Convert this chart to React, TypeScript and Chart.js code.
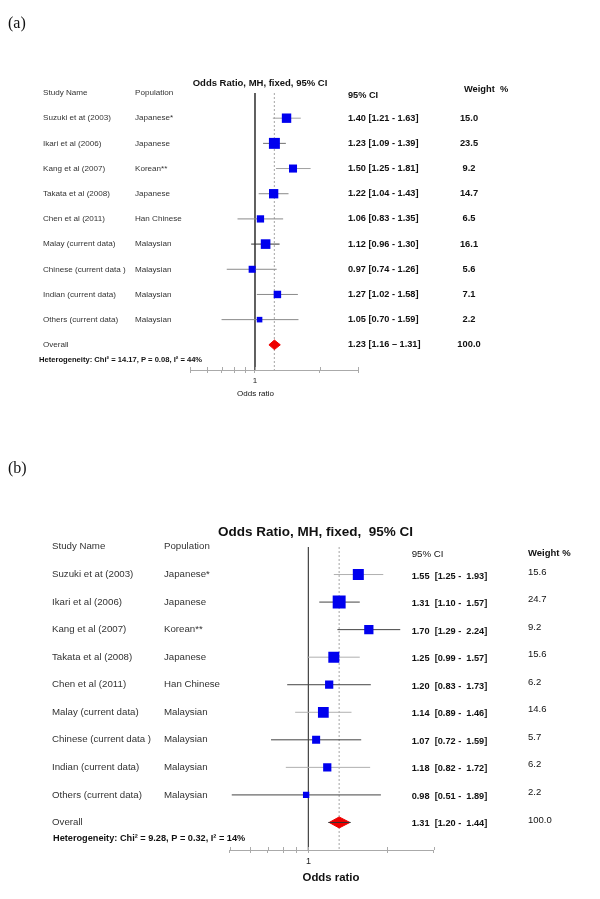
import React, { useEffect, useRef } from "react";
import { Chart, registerables } from "chart.js";
Chart.register(...registerables);

// ---------- data ----------
const studies = [
  "Suzuki et at (2003)",
  "Ikari et al (2006)",
  "Kang et al (2007)",
  "Takata et al (2008)",
  "Chen et al (2011)",
  "Malay (current data)",
  "Chinese (current data )",
  "Indian (current data)",
  "Others (current data)",
];
const populations = [
  "Japanese*",
  "Japanese",
  "Korean**",
  "Japanese",
  "Han Chinese",
  "Malaysian",
  "Malaysian",
  "Malaysian",
  "Malaysian",
];

// panel (a)
const orA = [1.4, 1.23, 1.5, 1.22, 1.06, 1.12, 0.97, 1.27, 1.05];
const loA = [1.21, 1.09, 1.25, 1.04, 0.83, 0.96, 0.74, 1.02, 0.7];
const hiA = [1.63, 1.39, 1.81, 1.43, 1.35, 1.3, 1.26, 1.58, 1.59];
const weightA = [15.0, 23.5, 9.2, 14.7, 6.5, 16.1, 5.6, 7.1, 2.2];
const overallA = [1.23, 1.16, 1.31]; // OR, lower, upper
const hetA = "Heterogeneity: Chi\u00B2 = 14.17, P = 0.08, I\u00B2 = 44%";
const titleA = "Odds Ratio, MH, fixed, 95% CI";

// panel (b)
const orB = [1.55, 1.31, 1.7, 1.25, 1.2, 1.14, 1.07, 1.18, 0.98];
const loB = [1.25, 1.1, 1.29, 0.99, 0.83, 0.89, 0.72, 0.82, 0.51];
const hiB = [1.93, 1.57, 2.24, 1.57, 1.73, 1.46, 1.59, 1.72, 1.89];
const weightB = [15.6, 24.7, 9.2, 15.6, 6.2, 14.6, 5.7, 6.2, 2.2];
const overallB = [1.31, 1.2, 1.44];
const hetB = "Heterogeneity: Chi\u00B2 = 9.28, P = 0.32, I\u00B2 = 14%";
const titleB = "Odds Ratio, MH, fixed,  95% CI";

const axisTicks = [0.5, 0.6, 0.7, 0.8, 0.9, 1, 2, 3];
const axisMin = 0.5;
const axisMax = 3;

// ---------- styles ----------
const FONT = "'Liberation Sans', Arial, sans-serif";

const panelA = {
  top: 0,
  height: 440,
  area: { left: 190, right: 358, top: 93, bottom: 370 },
  axisH: 20,
  or: orA,
  lo: loA,
  hi: hiA,
  weight: weightA,
  overall: overallA,
  het: hetA,
  title: titleA,
  fmt: (o: number, l: number, h: number, last: boolean) =>
    `${o.toFixed(2)} [${l.toFixed(2)} ${last ? "\u2013" : "-"} ${h.toFixed(2)}]`,
  ciColors: ["#a0a0a0", "#707070", "#a0a0a0", "#8a8a8a", "#8a8a8a", "#333333", "#8a8a8a", "#8a8a8a", "#8a8a8a"],
  sq: (w: number) => 3.2 + 1.6 * Math.sqrt(w),
  diamondHalf: 0.19,
  overallLine: false,
  t: {
    title: { x: 260, y: 83, font: `bold 9.5px ${FONT}` },
    headerY: 93,
    studyX: 43,
    popX: 135,
    rowFont: `8.1px ${FONT}`,
    rowColor: "#333",
    ciHead: { x: 348, y: 95, font: `bold 9.2px ${FONT}`, text: "95% CI" },
    wHead: { x: 464, y: 89, font: `bold 9.3px ${FONT}`, text: "Weight  %" },
    valX: 348,
    valDy: 0,
    valFont: `bold 9.2px ${FONT}`,
    wX: 469,
    wAlign: "center" as CanvasTextAlign,
    wDy: 0,
    wFont: `bold 9.3px ${FONT}`,
    het: { x: 39, y: 360, font: `bold 7.6px ${FONT}` },
    xTitle: { x: 255.5, y: 394, font: `8px ${FONT}`, text: "Odds ratio" },
    tickFont: 8,
    tickPad: 3,
  },
};

const panelB = {
  top: 440,
  height: 459,
  area: { left: 229.5, right: 433.5, top: 547, bottom: 850 },
  axisH: 22,
  or: orB,
  lo: loB,
  hi: hiB,
  weight: weightB,
  overall: overallB,
  het: hetB,
  title: titleB,
  fmt: (o: number, l: number, h: number, _last: boolean) =>
    `${o.toFixed(2)}  [${l.toFixed(2)} -  ${h.toFixed(2)}]`,
  ciColors: ["#b0b0b0", "#444444", "#444444", "#b0b0b0", "#444444", "#b0b0b0", "#444444", "#b0b0b0", "#444444"],
  sq: (w: number) => 3.5 + 1.9 * Math.sqrt(w),
  diamondHalf: 0.2,
  overallLine: true,
  t: {
    title: { x: 315.5, y: 532, font: `bold 13.5px ${FONT}` },
    headerY: 546,
    studyX: 52,
    popX: 164,
    rowFont: `9.7px ${FONT}`,
    rowColor: "#333",
    ciHead: { x: 411.7, y: 554, font: `9.7px ${FONT}`, text: "95% CI" },
    wHead: { x: 528, y: 553, font: `bold 9.5px ${FONT}`, text: "Weight %" },
    valX: 411.7,
    valDy: 1.5,
    valFont: `bold 9.2px ${FONT}`,
    wX: 528,
    wAlign: "left" as CanvasTextAlign,
    wDy: -2.5,
    wFont: `9.5px ${FONT}`,
    het: { x: 53, y: 838.3, font: `bold 9.2px ${FONT}` },
    xTitle: { x: 331, y: 877.7, font: `bold 11.4px ${FONT}`, text: "Odds ratio" },
    tickFont: 9,
    tickPad: 3,
  },
};

type PanelT = typeof panelA;

function makeChart(canvas: HTMLCanvasElement, p: PanelT) {
  const n = p.or.length;
  const off = p.top;
  const [oOR, oLo, oHi] = p.overall;

  const datasets: any[] = [];
  // reference line at OR = 1
  datasets.push({
    data: [
      { x: 1, y: -1 },
      { x: 1, y: n + 1 },
    ],
    showLine: true,
    borderColor: "#4a4a4a",
    borderWidth: 1,
    pointRadius: 0,
    order: 10,
  });
  // dotted line at pooled OR
  datasets.push({
    data: [
      { x: oOR, y: -1 },
      { x: oOR, y: n + 1 },
    ],
    showLine: true,
    borderColor: "#b4b4b4",
    borderWidth: 1.2,
    borderDash: [2, 2],
    pointRadius: 0,
    order: 9,
  });
  // confidence intervals
  p.or.forEach((_, i) => {
    datasets.push({
      data: [
        { x: p.lo[i], y: i },
        { x: p.hi[i], y: i },
      ],
      showLine: true,
      borderColor: p.ciColors[i],
      borderWidth: 1,
      pointRadius: 0,
      order: 5,
    });
  });
  // squares
  datasets.push({
    data: p.or.map((v, i) => ({ x: v, y: i })),
    pointStyle: "rect",
    pointRadius: p.weight.map((w) => p.sq(w) / Math.SQRT2),
    backgroundColor: "#0000ee",
    borderColor: "#0000ee",
    borderWidth: 0,
    order: 3,
  });
  // pooled diamond
  datasets.push({
    data: [
      { x: oLo, y: n },
      { x: oOR, y: n - p.diamondHalf },
      { x: oHi, y: n },
      { x: oOR, y: n + p.diamondHalf },
      { x: oLo, y: n },
    ],
    showLine: true,
    fill: "shape",
    backgroundColor: "#ee0000",
    borderColor: "#ee0000",
    borderWidth: 1,
    pointRadius: 0,
    order: 2,
  });
  if (p.overallLine) {
    datasets.push({
      data: [
        { x: oLo - 0.01, y: n },
        { x: oHi + 0.01, y: n },
      ],
      showLine: true,
      borderColor: "#333",
      borderWidth: 1,
      pointRadius: 0,
      order: 1,
    });
  }

  const textPlugin = {
    id: "forestText",
    afterDraw(chart: any) {
      const ctx: CanvasRenderingContext2D = chart.ctx;
      const ys = chart.scales.y;
      const xs = chart.scales.x;
      const t = p.t;
      const put = (s: string, x: number, y: number, font: string, color: string, align: CanvasTextAlign = "left") => {
        ctx.font = font;
        ctx.fillStyle = color;
        ctx.textAlign = align;
        ctx.textBaseline = "middle";
        ctx.fillText(s, x, y);
      };
      ctx.save();
      // upward halves of the axis tick marks (ticks cross the axis line)
      ctx.strokeStyle = "#aaa";
      ctx.lineWidth = 1;
      const ay = chart.chartArea.bottom;
      xs.ticks.forEach((tk: any) => {
        const px = Math.round(xs.getPixelForValue(tk.value)) + 0.5;
        ctx.beginPath();
        ctx.moveTo(px, ay - 3);
        ctx.lineTo(px, ay);
        ctx.stroke();
      });
      put(p.title, t.title.x, t.title.y - off, t.title.font, "#111", "center");
      put("Study Name", t.studyX, t.headerY - off, t.rowFont, t.rowColor);
      put("Population", t.popX, t.headerY - off, t.rowFont, t.rowColor);
      put(t.ciHead.text, t.ciHead.x, t.ciHead.y - off, t.ciHead.font, "#111");
      put(t.wHead.text, t.wHead.x, t.wHead.y - off, t.wHead.font, "#111");
      const rows = [...studies, "Overall"];
      rows.forEach((name, i) => {
        const y = ys.getPixelForValue(i);
        put(name, t.studyX, y, t.rowFont, t.rowColor);
        if (i < n) put(populations[i], t.popX, y, t.rowFont, t.rowColor);
        const last = i === n;
        const o = last ? oOR : p.or[i];
        const l = last ? oLo : p.lo[i];
        const h = last ? oHi : p.hi[i];
        const w = last ? 100 : p.weight[i];
        put(p.fmt(o, l, h, last), t.valX, y + t.valDy, t.valFont, "#111");
        put(w.toFixed(1), t.wX, y + t.wDy, t.wFont, "#111", t.wAlign);
      });
      put(p.het, t.het.x, t.het.y - off, t.het.font, "#111");
      put(t.xTitle.text, t.xTitle.x, t.xTitle.y - off, t.xTitle.font, "#111", "center");
      ctx.restore();
    },
  };

  return new Chart(canvas, {
    type: "scatter",
    data: { datasets },
    options: {
      responsive: false,
      animation: false,
      devicePixelRatio: 1,
      events: [],
      layout: {
        autoPadding: false,
        padding: {
          left: p.area.left,
          right: 600 - p.area.right,
          top: p.area.top - off,
          bottom: p.height - (p.area.bottom - off) - p.axisH,
        },
      },
      plugins: { legend: { display: false }, tooltip: { enabled: false } },
      scales: {
        x: {
          type: "logarithmic",
          min: axisMin,
          max: axisMax,
          bounds: "data",
          position: "bottom",
          afterBuildTicks: (ax: any) => {
            ax.ticks = axisTicks.map((v) => ({ value: v }));
          },
          afterFit: (ax: any) => {
            ax.height = p.axisH;
          },
          ticks: {
            autoSkip: false,
            maxRotation: 0,
            padding: p.t.tickPad,
            color: "#222",
            font: { family: FONT, size: p.t.tickFont },
            callback: (v: any) => (Math.abs(Number(v) - 1) < 1e-9 ? "1" : ""),
          },
          grid: { drawOnChartArea: false, tickLength: 3, color: "#aaa" },
          border: { display: true, color: "#aaa" },
        } as any,
        y: { type: "linear", min: -1, max: n + 1, reverse: true, display: false },
      },
    } as any,
    plugins: [textPlugin],
  } as any);
}

function ForestPanel({ p }: { p: PanelT }) {
  const ref = useRef<HTMLCanvasElement | null>(null);
  useEffect(() => {
    if (!ref.current) return;
    const chart = makeChart(ref.current, p);
    return () => chart.destroy();
  }, [p]);
  return (
    <canvas
      ref={ref}
      width={600}
      height={p.height}
      style={{ position: "absolute", left: 0, top: p.top, width: 600, height: p.height }}
    />
  );
}

export default function App() {
  useEffect(() => {
    document.body.style.margin = "0";
  }, []);
  const label: React.CSSProperties = {
    position: "absolute",
    left: 8,
    fontFamily: "'Liberation Serif', 'Times New Roman', serif",
    fontSize: 16,
    lineHeight: "16px",
    color: "#111",
  };
  return (
    <div style={{ position: "absolute", left: 0, top: 0, width: 600, height: 899, background: "#fff", overflow: "hidden" }}>
      <ForestPanel p={panelA} />
      <ForestPanel p={panelB} />
      <div style={{ ...label, top: 15 }}>(a)</div>
      <div style={{ ...label, top: 460 }}>(b)</div>
    </div>
  );
}
